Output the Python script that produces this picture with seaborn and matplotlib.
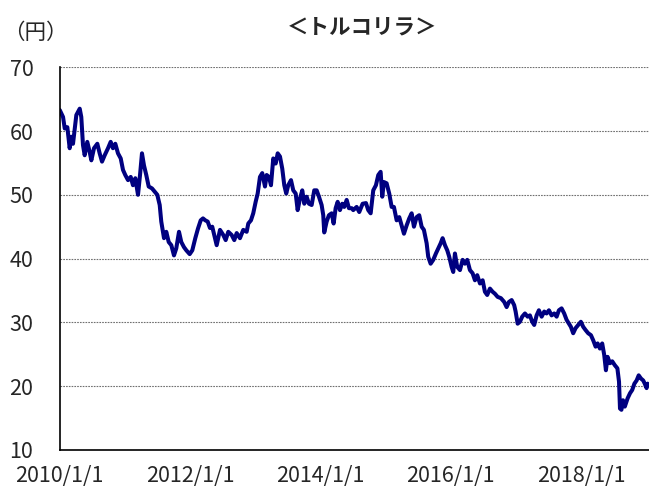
import matplotlib
matplotlib.use('Agg')
import matplotlib.pyplot as plt
import seaborn as sns
import pandas as pd

# years after 2010/1/1 and TRY/JPY rate in yen
t_years = [
    0.000, 0.051, 0.077, 0.117, 0.153, 0.178, 0.204, 0.255, 0.307, 0.331,
    0.357, 0.383, 0.423, 0.460, 0.485, 0.526, 0.577, 0.613, 0.649, 0.690,
    0.741, 0.782, 0.817, 0.853, 0.894, 0.936, 0.971, 1.006, 1.048, 1.089,
    1.124, 1.160, 1.201, 1.232, 1.262, 1.293, 1.328, 1.365, 1.416, 1.457,
    1.497, 1.534, 1.558, 1.600, 1.635, 1.672, 1.712, 1.753, 1.788, 1.830,
    1.865, 1.906, 1.942, 1.994, 2.034, 2.080, 2.121, 2.163, 2.198, 2.233,
    2.270, 2.305, 2.340, 2.371, 2.408, 2.459, 2.509, 2.546, 2.586, 2.638,
    2.678, 2.715, 2.765, 2.816, 2.868, 2.893, 2.934, 2.969, 3.006, 3.037,
    3.072, 3.107, 3.149, 3.175, 3.210, 3.241, 3.276, 3.313, 3.344, 3.379,
    3.414, 3.445, 3.475, 3.506, 3.548, 3.583, 3.620, 3.650, 3.686, 3.721,
    3.752, 3.788, 3.824, 3.865, 3.905, 3.942, 3.977, 4.018, 4.043, 4.058,
    4.095, 4.130, 4.172, 4.202, 4.233, 4.264, 4.299, 4.334, 4.365, 4.402,
    4.437, 4.479, 4.503, 4.555, 4.595, 4.647, 4.698, 4.733, 4.770, 4.810,
    4.851, 4.887, 4.923, 4.948, 4.974, 5.015, 5.055, 5.092, 5.127, 5.169,
    5.209, 5.245, 5.281, 5.322, 5.362, 5.399, 5.434, 5.475, 5.515, 5.552,
    5.587, 5.629, 5.653, 5.690, 5.730, 5.771, 5.807, 5.844, 5.874, 5.910,
    5.945, 5.975, 6.012, 6.037, 6.063, 6.098, 6.140, 6.181, 6.216, 6.252,
    6.293, 6.334, 6.370, 6.405, 6.447, 6.488, 6.523, 6.558, 6.600, 6.641,
    6.676, 6.718, 6.768, 6.819, 6.856, 6.891, 6.933, 6.972, 6.994, 7.025,
    7.060, 7.095, 7.137, 7.178, 7.213, 7.248, 7.279, 7.316, 7.351, 7.393,
    7.433, 7.469, 7.505, 7.546, 7.586, 7.623, 7.658, 7.699, 7.739, 7.776,
    7.811, 7.842, 7.877, 7.914, 7.954, 7.995, 8.031, 8.067, 8.107, 8.149,
    8.184, 8.221, 8.252, 8.287, 8.322, 8.353, 8.379, 8.405, 8.441, 8.476,
    8.515, 8.555, 8.580, 8.595, 8.617, 8.641, 8.669, 8.712, 8.749, 8.782,
    8.816, 8.850, 8.882, 8.917, 8.951, 8.975, 9.003, 9.018,
]
rate_yen = [
    63.3, 62.2, 60.4, 60.6, 57.3, 59.1, 58.0, 62.5, 63.5, 62.2,
    57.8, 56.2, 58.3, 56.7, 55.4, 57.3, 58.0, 56.5, 55.2, 56.2,
    57.3, 58.3, 57.3, 58.0, 56.5, 55.7, 53.9, 53.1, 52.3, 52.8,
    51.5, 52.6, 50.0, 53.1, 56.5, 54.6, 53.1, 51.3, 51.0, 50.5,
    50.0, 48.4, 45.8, 43.2, 44.2, 42.6, 42.1, 40.5, 41.6, 44.2,
    42.6, 41.8, 41.3, 40.7, 41.3, 43.2, 44.7, 46.0, 46.3, 46.0,
    45.8, 44.8, 45.0, 43.7, 42.1, 44.5, 43.7, 42.9, 44.2, 43.7,
    42.9, 44.0, 43.2, 44.5, 44.2, 45.5, 46.0, 47.1, 48.9, 50.2,
    52.8, 53.4, 51.3, 53.1, 52.8, 51.5, 55.7, 54.9, 56.5, 56.0,
    54.1, 51.5, 50.2, 51.5, 52.3, 50.7, 50.2, 47.6, 49.4, 50.7,
    48.6, 49.7, 48.6, 48.4, 50.7, 50.7, 49.7, 48.4, 46.8, 44.1,
    45.8, 46.8, 47.1, 45.5, 47.9, 48.9, 47.6, 48.6, 48.1, 49.2,
    47.9, 47.9, 47.6, 48.1, 47.3, 48.6, 48.7, 47.6, 47.1, 50.7,
    51.5, 53.1, 53.6, 49.7, 52.0, 51.8, 50.2, 48.1, 48.1, 46.0,
    46.5, 45.2, 43.9, 45.2, 46.3, 47.1, 45.0, 46.5, 46.8, 45.0,
    44.5, 42.4, 40.3, 39.2, 39.8, 40.8, 41.6, 42.4, 43.2, 42.1,
    41.3, 40.3, 38.7, 37.9, 40.8, 38.7, 38.2, 39.8, 39.2, 39.8,
    38.2, 37.7, 36.6, 37.4, 36.1, 36.6, 34.8, 34.3, 35.3, 34.8,
    34.5, 34.0, 33.8, 33.2, 32.4, 33.2, 33.5, 32.7, 31.7, 29.8,
    30.1, 30.9, 31.4, 30.9, 31.1, 30.1, 29.6, 31.1, 31.9, 30.9,
    31.7, 31.4, 31.9, 31.1, 31.4, 30.9, 31.9, 32.2, 31.4, 30.4,
    29.8, 29.3, 28.3, 29.1, 29.6, 30.1, 29.3, 28.8, 28.3, 28.0,
    27.2, 26.2, 26.7, 25.9, 26.7, 24.9, 22.5, 24.6, 23.6, 23.9,
    23.3, 22.8, 20.7, 16.5, 16.3, 17.8, 16.8, 18.1, 18.9, 19.4,
    20.4, 20.9, 21.7, 21.2, 20.9, 20.4, 19.7, 20.4,
]
tick_dates = ['2010-01-01', '2012-01-01', '2014-01-01', '2016-01-01', '2018-01-01']
tick_labels = ['2010/1/1', '2012/1/1', '2014/1/1', '2016/1/1', '2018/1/1']
y_ticks = [10, 20, 30, 40, 50, 60, 70]

start = pd.Timestamp('2010-01-01')
df = pd.DataFrame({
    'date': [start + pd.Timedelta(days=v * 365.25) for v in t_years],
    'rate': rate_yen,
})

sns.set_style('white')
plt.rcParams['font.family'] = ['Noto Sans CJK JP', 'DejaVu Sans']

fig = plt.figure(figsize=(6.49, 4.87), dpi=100)
ax = fig.add_axes([0.092, 0.076, 0.908, 0.786])

sns.lineplot(data=df, x='date', y='rate', color='#000080', linewidth=2.9, ax=ax)

ax.set_ylim(10, 70)
ax.set_yticks(y_ticks)
ax.set_xlim(start, start + pd.Timedelta(days=9.04 * 365.25))
ax.set_xticks(pd.to_datetime(tick_dates))
ax.set_xticklabels(tick_labels)
ax.set_xlabel('')
ax.set_ylabel('')

ax.grid(axis='y', color='#707070', linestyle=(0, (1.5, 1)), linewidth=0.8)
ax.grid(axis='x', visible=False)
for side in ['top', 'right']:
    ax.spines[side].set_visible(False)
for side in ['left', 'bottom']:
    ax.spines[side].set_color('black')
    ax.spines[side].set_linewidth(1.2)

ax.tick_params(axis='x', direction='in', length=5, width=0.8, color='#555555',
               labelsize=15.5, pad=11)
ax.tick_params(axis='y', length=0, labelsize=15.5, pad=19)

fig.text(0.558, 0.945, '＜トルコリラ＞', ha='center', va='center',
         fontsize=15.5, fontweight='bold')
fig.text(0.004, 0.932, '（円）', ha='left', va='center', fontsize=15.5)

fig.savefig('out.png', dpi=100)
